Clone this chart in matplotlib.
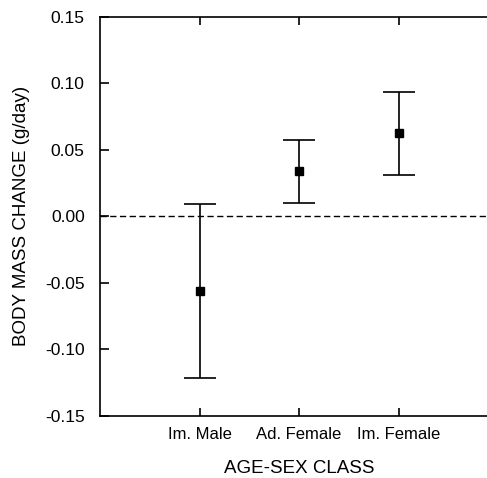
import matplotlib
matplotlib.use("Agg")
import matplotlib.pyplot as plt
import numpy as np

categories = ["Im. Male", "Ad. Female", "Im. Female"]
means = [-0.0565, 0.0337, 0.0626]
upper = [0.0092, 0.0575, 0.0934]
lower = [-0.1217, 0.0099, 0.0314]
yticks = [-0.15, -0.10, -0.05, 0.00, 0.05, 0.10, 0.15]
ytick_labels = ["-0.15", "-0.10", "-0.05", "0.00", "0.05", "0.10", "0.15"]

plt.rcParams['font.family'] = ['Liberation Sans', 'DejaVu Sans']

fig = plt.figure(figsize=(4.87, 4.78), dpi=100)
ax = fig.add_axes([100/487, 1-415.5/478, 398/487, (415.5-17)/478])

x = np.arange(1, len(categories) + 1)
m = np.array(means)
yerr = np.vstack([m - np.array(lower), np.array(upper) - m])
ax.errorbar(x, m, yerr=yerr, fmt='s', color='black', ms=5.5, ecolor='black',
            elinewidth=1.2, capsize=11.5, capthick=1.2)
ax.axhline(0, color='black', lw=1.0, ls=(0, (4.5, 2.5)))

ax.set_xlim(0, 4)
ax.set_ylim(-0.15, 0.15)
ax.set_yticks(yticks)
ax.set_yticklabels(ytick_labels, fontsize=12.5)
ax.set_xticks(x)
ax.set_xticklabels(categories, fontsize=12)
ax.tick_params(axis='y', direction='in', length=6.5, width=1.2, pad=11)
ax.tick_params(axis='x', direction='in', length=6, width=1.2, pad=8, top=True)
for s in ['left', 'bottom', 'top']:
    ax.spines[s].set_linewidth(1.2)
ax.spines['right'].set_visible(False)

ax.set_xlabel("AGE-SEX CLASS", fontsize=13.5, labelpad=13)
ax.set_ylabel("BODY MASS CHANGE (g/day)", fontsize=13.5, labelpad=11)

fig.savefig("out.png", dpi=100)
